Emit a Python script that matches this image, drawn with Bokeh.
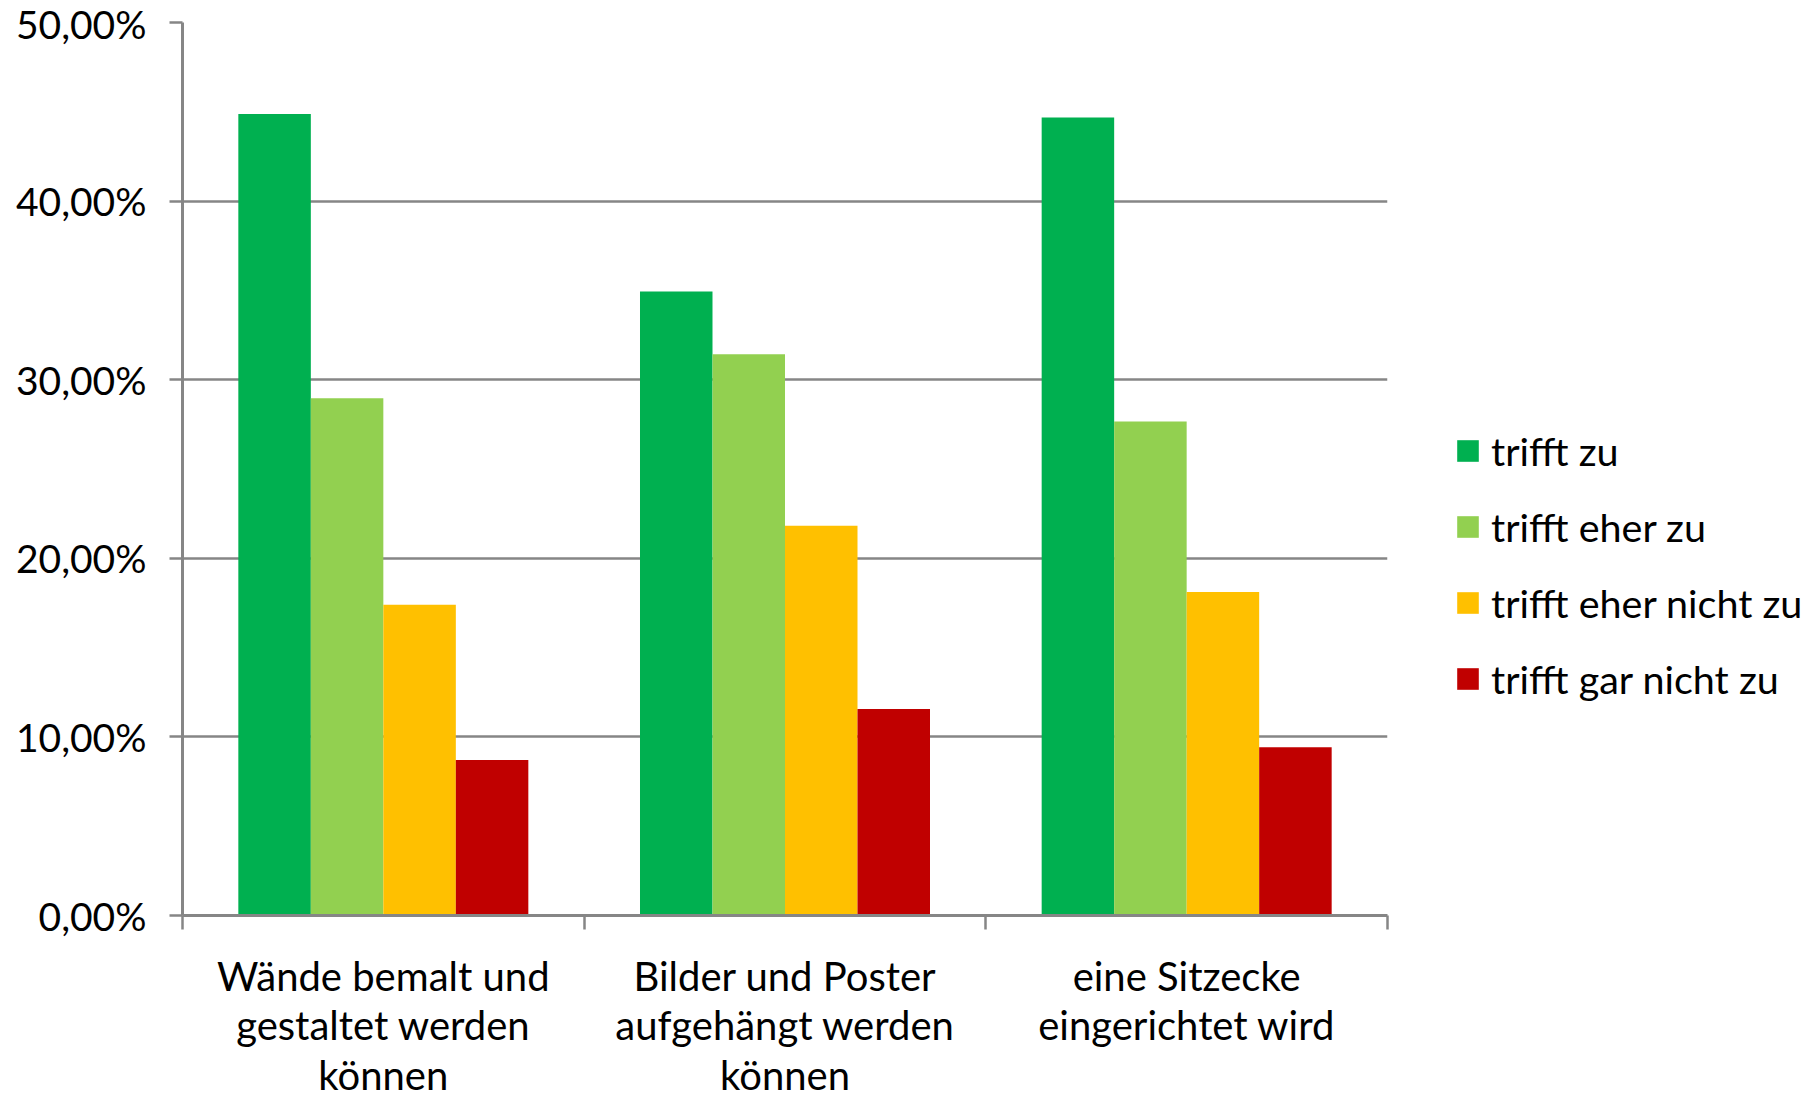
from bokeh.plotting import figure
from bokeh.models import (ColumnDataSource, FixedTicker, Legend, LegendItem, Range1d)
from bokeh.transform import dodge
from bokeh.embed import file_html
from bokeh.resources import INLINE

# ---- data ----
categories = [
    "Wände bemalt und\ngestaltet werden\nkönnen",
    "Bilder und Poster\naufgehängt werden\nkönnen",
    "eine Sitzecke\neingerichtet wird",
]
series_names = ["trifft zu", "trifft eher zu", "trifft eher nicht zu", "trifft gar nicht zu"]
trifft_zu = [44.87, 34.94, 44.68]
trifft_eher_zu = [28.96, 31.43, 27.66]
trifft_eher_nicht_zu = [17.40, 21.82, 18.12]
trifft_gar_nicht_zu = [8.70, 11.56, 9.42]
y_ticks = [0, 10, 20, 30, 40, 50]
y_tick_labels = ["0,00%", "10,00%", "20,00%", "30,00%", "40,00%", "50,00%"]

colors = ["#00B050", "#92D050", "#FFC000", "#C00000"]

FONT = "Lato"
GRAY = "#868686"

src = ColumnDataSource(dict(
    x=[i + 0.5 for i in range(len(categories))],
    s0=trifft_zu, s1=trifft_eher_zu, s2=trifft_eher_nicht_zu, s3=trifft_gar_nicht_zu,
))

p = figure(frame_width=1205, frame_height=893, output_backend="svg", toolbar_location=None,
           x_range=Range1d(0, len(categories)), y_range=Range1d(0, 50),
           min_border_left=182, min_border_right=0, min_border_top=22,
           min_border_bottom=186)
p.outline_line_color = None
p.background_fill_color = "white"
p.border_fill_color = "white"

bw = 0.1805
items = []
for j, name in enumerate(series_names):
    r = p.vbar(x=dodge("x", (j - 1.5) * bw, range=p.x_range), top="s%d" % j, width=bw,
               source=src, fill_color=colors[j], line_color=None)
    items.append(LegendItem(label=name, renderers=[r]))

# y axis
p.yaxis.ticker = FixedTicker(ticks=y_ticks)
p.yaxis.major_label_overrides = {t: l for t, l in zip(y_ticks, y_tick_labels)}
p.yaxis.axis_line_color = GRAY
p.yaxis.axis_line_width = 3
p.yaxis.major_tick_out = 13
p.yaxis.major_tick_in = 0
p.yaxis.major_tick_line_color = GRAY
p.yaxis.major_tick_line_width = 2.5
p.yaxis.minor_tick_line_color = None
p.yaxis.major_label_text_font = FONT
p.yaxis.major_label_text_font_size = "39px"
p.yaxis.major_label_text_color = "black"
p.yaxis.major_label_standoff = 23

# x axis: labels centered, ticks at category boundaries
p.xaxis.ticker = FixedTicker(ticks=[i + 0.5 for i in range(len(categories))],
                             minor_ticks=list(range(len(categories) + 1)))
p.xaxis.major_label_overrides = {i + 0.5: c for i, c in enumerate(categories)}
p.xaxis.axis_line_color = GRAY
p.xaxis.axis_line_width = 3
p.xaxis.major_tick_line_color = None
p.xaxis.major_tick_out = 0
p.xaxis.major_tick_in = 0
p.xaxis.minor_tick_line_color = GRAY
p.xaxis.minor_tick_line_width = 2.5
p.xaxis.minor_tick_out = 14
p.xaxis.minor_tick_in = 0
p.xaxis.major_label_text_font = FONT
p.xaxis.major_label_text_font_size = "40px"
p.xaxis.major_label_text_color = "black"
p.xaxis.major_label_text_line_height = 1.04
p.xaxis.major_label_standoff = 22

p.xgrid.grid_line_color = None
p.ygrid.ticker = FixedTicker(ticks=y_ticks)
p.ygrid.grid_line_color = GRAY
p.ygrid.grid_line_width = 2.5

legend = Legend(items=items, location=(67, 213), orientation="vertical",
                glyph_width=27, glyph_height=27, label_standoff=10,
                label_text_font=FONT, label_text_font_size="39.5px",
                label_text_color="black", spacing=29, padding=0, margin=0,
                border_line_color=None, background_fill_alpha=0)
p.add_layout(legend, "right")

open("out.html", "w").write(file_html(p, INLINE))
